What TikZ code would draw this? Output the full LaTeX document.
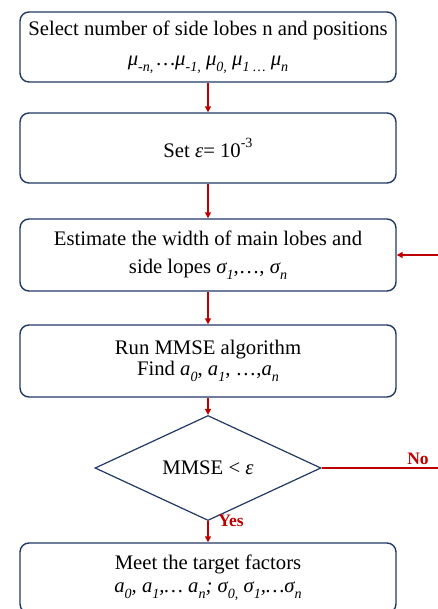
\documentclass[tikz,border=0pt]{standalone}
\usepackage{fontspec}
\setmainfont{Liberation Serif}
\usetikzlibrary{shapes.geometric,arrows.meta}
\definecolor{boxblue}{HTML}{1F3864}
\definecolor{flowred}{HTML}{C00000}
\newcommand{\mysub}[1]{\raisebox{-0.28em}{\scalebox{0.68}{#1}}}
\newcommand{\mysup}[1]{\raisebox{0.45em}{\scalebox{0.68}{#1}}}
\begin{document}
\begin{tikzpicture}[x=1pt,y=-1pt,
  procbox/.style={draw=boxblue,line width=1.4pt,rounded corners=9pt,
    minimum width=376pt,minimum height=70pt,inner sep=0pt,align=center,
    font=\fontsize{20.7}{25}\selectfont},
  decbox/.style={draw=boxblue,line width=1.2pt,diamond,
    minimum width=226pt,minimum height=71pt,inner sep=0pt,
    font=\fontsize{20.7}{25}\selectfont},
  flow/.style={draw=flowred,line width=1.8pt,-{Triangle[length=6pt,width=6pt]}},
  flowlabel/.style={text=flowred,font=\fontsize{17.5}{20}\selectfont\bfseries,inner sep=0pt}]
\useasboundingbox (0,0) rectangle (438,609);
\node[procbox] (b1) at (208,47) {Select number of side lobes n and positions\\[5pt]
  \itshape μ\mysub{-n,}\,…μ\mysub{-1,} μ\mysub{0,} μ\mysub{1 …} μ\mysub{n}};
\node[procbox] (b2) at (208,148) {Set \textit{ε}= 10\mysup{-3}};
\node[procbox,minimum height=72pt] (b3) at (208,255) {Estimate the width of main lobes and\\[3pt]
  side lopes \textit{σ\mysub{1}},…, \textit{σ\mysub{n}}};
\node[procbox,minimum height=72pt] (b4) at (208,361) {Run MMSE algorithm\\[-4pt]
  Find \textit{a\mysub{0}}, \textit{a\mysub{1}}, …,\textit{a\mysub{n}}};
\node[decbox] (d) at (208,468) {MMSE < \textit{ε}};
\node[procbox] (b5) at (208,578) {Meet the target factors\\[-2pt]
  \itshape a\mysub{0}, a\mysub{1},… a\mysub{n}; σ\mysub{0,} σ\mysub{1},…σ\mysub{n}};
\coordinate (c1) at (447,468);
\draw[flow] (b1) -- (b2);
\draw[flow] (b2) -- (b3);
\draw[flow] (b3) -- (b4);
\draw[flow] (b4) -- (d);
\draw[flow] (d) -- (b5);
\draw[flow] (d.east) -- (c1) |- (b3.east);
\node[flowlabel] (yes) at (231,521) {Yes};
\node[flowlabel] (no) at (418,459) {No};
\end{tikzpicture}
\end{document}
